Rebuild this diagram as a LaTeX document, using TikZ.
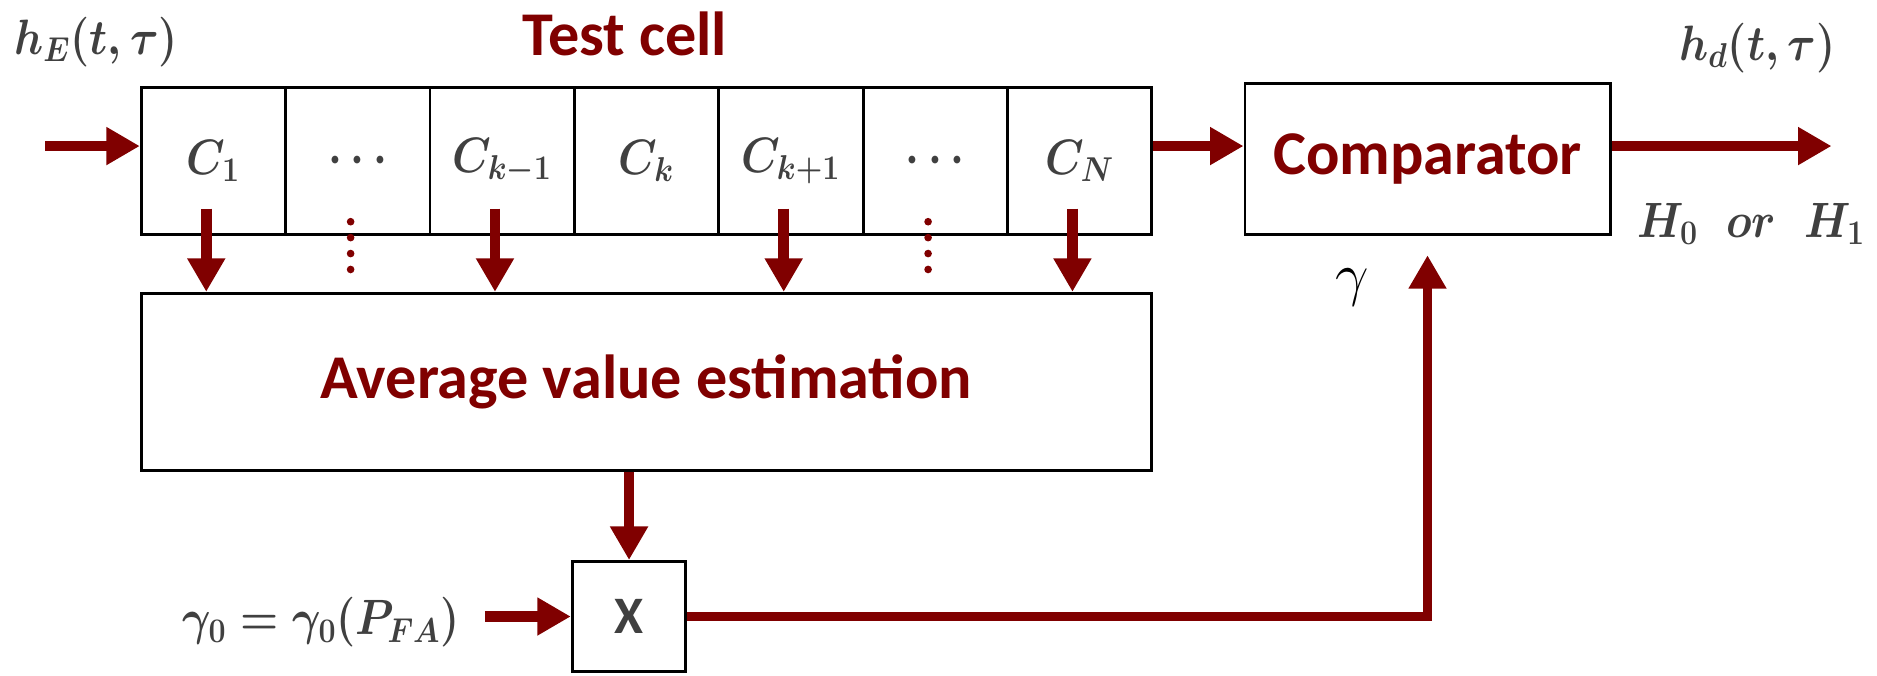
\documentclass[tikz,border=0pt]{standalone}
\usepackage{fontspec}
\usepackage{graphicx}
\setmainfont{Carlito}
\usetikzlibrary{arrows.meta}

\definecolor{darkred}{RGB}{128,0,0}
\definecolor{mathgray}{RGB}{64,64,64}

% narrow bold set for the math labels
\newcommand{\slimmath}[1]{\scalebox{0.88}[1]{\boldmath$#1$}}

\begin{document}
\begin{tikzpicture}
  [
  x=0.5pt, y=-0.5pt, line width=1.2pt, draw=black,
  cell/.style={rectangle, draw=black, inner sep=0pt, minimum width=60.3pt, minimum height=61.5pt,
    text=mathgray, font=\fontsize{21}{25}\selectfont},
  block/.style={rectangle, draw=black, inner sep=0pt, text=darkred, font=\fontsize{26}{30}\selectfont\bfseries},
  sym/.style={text=mathgray, font=\fontsize{21}{25}\selectfont},
  flow/.style={draw=darkred, line width=4.5pt, -{Triangle[width=15pt,length=14pt]}}
  ]

\useasboundingbox (0,0) rectangle (1568,564);

% sliding window of cells
\foreach \i/\lab in {1/C_1, 2/\cdots, 3/C_{k-1}, 4/C_k, 5/C_{k+1}, 6/\cdots, 7/C_N} {
  \node[cell] (c\i) at (57.7 + 120.6*\i, 134.5) {\slimmath{\lab}};
}
\node[text=darkred, font=\fontsize{26}{30}\selectfont\bfseries] (title) at (522,28) {Test cell};

\node[block, minimum width=152.5pt, minimum height=63pt] (cmp) at (1192.5,133) {Comparator};
\node[block, minimum width=422pt, minimum height=74pt] (avg) at (540,319) {Average value estimation};
\node[rectangle, draw=black, minimum width=47.5pt, minimum height=46pt, text=mathgray,
  font=\fontsize{22}{26}\selectfont\bfseries] (mul) at (525.5,515) {X};

\node[sym, anchor=west] (hE) at (4,35) {\slimmath{h_E(t,\tau)}};
\node[sym] (hd) at (1468,40) {\slimmath{h_d(t,\tau)}};
\node[sym, anchor=east] (hyp) at (1566,187) {\slimmath{H_0\;\;or\;\;H_1}};
\node[sym, anchor=east] (g0) at (392,520) {\slimmath{\gamma_0=\gamma_0(P_{FA})}};
\node[font=\fontsize{28}{32}\selectfont] (gam) at (1130,240) {$\gamma$};

\coordinate (in) at (38,122);
\coordinate (out) at (1530,122);

% signal path
\draw[flow] (in) -- (in -| c1.west);
\draw[flow] (c7.east |- in) -- (cmp.west |- in);
\draw[flow] (cmp.east |- in) -- (out);

% cells into the estimator
\foreach \i in {1,3,5,7} {
  \draw[flow] ([xshift=-3pt,yshift=11.5pt]c\i.south) -- ([xshift=-3pt]c\i.south |- avg.north);
}
\foreach \i in {2,6} {
  \foreach \d in {0,1,2,3} {
    \fill[darkred] ([xshift=-3pt]c\i.south) ++(0,-12+13.3*\d) circle (1.6pt);
  }
}

% threshold
\draw[flow] (mul.north |- avg.south) -- (mul.north);
\draw[flow] ([xshift=6.5pt]g0.east |- mul.west) -- (mul.west);
\draw[flow, line width=4pt] (mul.east) -| ([yshift=-8pt]cmp.south);

\end{tikzpicture}
\end{document}
